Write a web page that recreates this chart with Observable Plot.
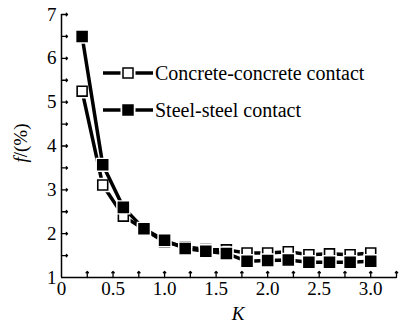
<!DOCTYPE html>
<html><head><meta charset="utf-8">
<script src="https://cdn.jsdelivr.net/npm/d3@7"></script>
<script src="https://cdn.jsdelivr.net/npm/@observablehq/plot@0.6"></script>
<style>body{margin:0;background:#fff}</style>
</head><body><div id="chart"></div>
<script>
const K = [0.2, 0.4, 0.6, 0.8, 1.0, 1.2, 1.4, 1.6, 1.8, 2.0, 2.2, 2.4, 2.6, 2.8, 3.0];
const concrete = [5.25, 3.11, 2.40, 2.10, 1.81, 1.70, 1.64, 1.63, 1.56, 1.56, 1.59, 1.52, 1.54, 1.52, 1.56];
const steel    = [6.50, 3.57, 2.60, 2.11, 1.85, 1.66, 1.60, 1.55, 1.37, 1.39, 1.40, 1.35, 1.35, 1.35, 1.37];
const seriesNames = ["Concrete-concrete contact", "Steel-steel contact"];
const xTickValues = [0, 0.5, 1.0, 1.5, 2.0, 2.5, 3.0];
const xTickLabels = ["0", "0.5", "1.0", "1.5", "2.0", "2.5", "3.0"];
const xTickMarks = [0.25, 0.5, 0.75, 1.0, 1.25, 1.5, 1.75, 2.0, 2.25, 2.5, 2.75, 3.0, 3.25];
const yTickValues = [1, 2, 3, 4, 5, 6, 7];
const yTickMarks = [1.5, 2, 2.5, 3, 3.5, 4, 4.5, 5, 5.5, 6, 6.5, 7];

const rows = [];
K.forEach((k, i) => {
  rows.push({K: k, f: concrete[i], s: seriesNames[0]});
});
K.forEach((k, i) => {
  rows.push({K: k, f: steel[i], s: seriesNames[1]});
});
const rowsC = rows.filter(d => d.s === seriesNames[0]);
const rowsS = rows.filter(d => d.s === seriesNames[1]);

const FONT = "Liberation Serif";
const LW = 3.5, R = 5.6;

function seriesMarks(data, fill) {
  return [
    Plot.line(data, {x: "K", y: "f", stroke: "#000", strokeWidth: LW}),
    Plot.dot(data, {x: "K", y: "f", symbol: "square", r: R, fill: "#fff", stroke: "#fff", strokeWidth: 4.5}),
    Plot.dot(data, {x: "K", y: "f", symbol: "square", r: R, fill: fill, stroke: "#000", strokeWidth: 1.6})
  ];
}

const chart = Plot.plot({
  width: 405, height: 325,
  marginLeft: 61, marginRight: 9, marginTop: 14, marginBottom: 48,
  style: {fontSize: "19px", background: "#fff", color: "#000"},
  x: {domain: [0, 3.25]},
  y: {domain: [1, 7]},
  marks: [
    Plot.axisX(xTickValues, {tickSize: 0, tickPadding: 4, tickFormat: (d) => xTickLabels[xTickValues.indexOf(d)], label: null, fontSize: 19}),
    Plot.axisY(yTickValues, {tickSize: 0, tickPadding: 5, tickFormat: (d) => String(d), label: null, fontSize: 19}),
    Plot.vector(xTickMarks, {x: d => d, y: 1, length: 6, rotate: 0, anchor: "start", stroke: "#000", strokeWidth: 1.3}),
    Plot.vector(yTickMarks, {x: 0, y: d => d, length: 6, rotate: 90, anchor: "start", stroke: "#000", strokeWidth: 1.3}),
    Plot.ruleY([1], {stroke: "#000", strokeWidth: 1.5}),
    Plot.ruleX([0], {stroke: "#000", strokeWidth: 1.5}),
    ...seriesMarks(rowsC, "#fff"),
    ...seriesMarks(rowsS, "#000")
  ]
});
document.getElementById("chart").appendChild(chart);

const svg = d3.select(chart);
svg.attr("font-family", FONT);
// axis titles
const yl = svg.append("text")
  .attr("transform", "translate(27,143) rotate(-90)")
  .attr("text-anchor", "middle")
  .attr("font-size", 19).attr("fill", "#000");
yl.append("tspan").attr("font-style", "italic").text("f");
yl.append("tspan").text("/(%)");
svg.append("text").attr("x", 238).attr("y", 320).attr("text-anchor", "middle")
  .attr("font-size", 19).attr("font-style", "italic").attr("fill", "#000").text("K");

// legend
const legendY = [73, 110];
const legendFill = ["#fff", "#000"];
seriesNames.forEach((name, i) => {
  const g = svg.append("g").attr("transform", `translate(0,${legendY[i]})`);
  g.append("line").attr("x1", 103).attr("x2", 153).attr("y1", 0).attr("y2", 0)
    .attr("stroke", "#000").attr("stroke-width", LW);
  g.append("rect").attr("x", 122.5).attr("y", -5.5).attr("width", 11).attr("height", 11)
    .attr("fill", "#fff").attr("stroke", "#fff").attr("stroke-width", 4);
  g.append("rect").attr("x", 123).attr("y", -5).attr("width", 10).attr("height", 10)
    .attr("fill", legendFill[i]).attr("stroke", "#000").attr("stroke-width", 1.5);
  g.append("text").attr("x", 155).attr("y", 0).attr("dy", "0.35em").attr("text-anchor", "start")
    .attr("font-size", 20).attr("fill", "#000").text(name);
});
svg.selectAll("text, tspan").each(function() { this.style.setProperty("font-family", "'Liberation Serif'", "important"); });
chart.style.setProperty("font-family", "'Liberation Serif'", "important");
</script>
</body></html>
